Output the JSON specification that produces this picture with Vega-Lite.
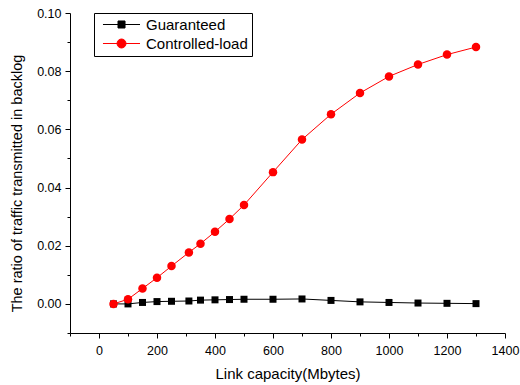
{
  "$schema": "https://vega.github.io/schema/vega-lite/v6.json",
  "width": 435,
  "height": 320,
  "autosize": "none",
  "padding": {"left": 70, "top": 13, "right": 15, "bottom": 52},
  "background": "white",
  "config": {
    "view": {"stroke": null},
    "font": "Liberation Sans",
    "axis": {
      "domainColor": "black",
      "tickColor": "black",
      "labelColor": "black",
      "titleColor": "black",
      "labelFont": "Liberation Sans",
      "titleFont": "Liberation Sans",
      "titleFontWeight": "normal",
      "labelFontSize": 12.5,
      "titleFontSize": 15,
      "grid": false,
      "labelOverlap": false,
      "labelFlush": false
    }
  },
  "data": {
    "values": [
      {"x": 50, "y": 0.0000, "s": "Guaranteed"},
      {"x": 100, "y": 0.0000, "s": "Guaranteed"},
      {"x": 150, "y": 0.0005, "s": "Guaranteed"},
      {"x": 200, "y": 0.0008, "s": "Guaranteed"},
      {"x": 250, "y": 0.0009, "s": "Guaranteed"},
      {"x": 310, "y": 0.0010, "s": "Guaranteed"},
      {"x": 350, "y": 0.0013, "s": "Guaranteed"},
      {"x": 400, "y": 0.0014, "s": "Guaranteed"},
      {"x": 450, "y": 0.0015, "s": "Guaranteed"},
      {"x": 500, "y": 0.0016, "s": "Guaranteed"},
      {"x": 600, "y": 0.0016, "s": "Guaranteed"},
      {"x": 700, "y": 0.0017, "s": "Guaranteed"},
      {"x": 800, "y": 0.0012, "s": "Guaranteed"},
      {"x": 900, "y": 0.0007, "s": "Guaranteed"},
      {"x": 1000, "y": 0.0005, "s": "Guaranteed"},
      {"x": 1100, "y": 0.0003, "s": "Guaranteed"},
      {"x": 1200, "y": 0.0002, "s": "Guaranteed"},
      {"x": 1300, "y": 0.0001, "s": "Guaranteed"},
      {"x": 50, "y": 0.0000, "s": "Controlled-load"},
      {"x": 100, "y": 0.0016, "s": "Controlled-load"},
      {"x": 150, "y": 0.0053, "s": "Controlled-load"},
      {"x": 200, "y": 0.0090, "s": "Controlled-load"},
      {"x": 250, "y": 0.0130, "s": "Controlled-load"},
      {"x": 310, "y": 0.0177, "s": "Controlled-load"},
      {"x": 350, "y": 0.0207, "s": "Controlled-load"},
      {"x": 400, "y": 0.0248, "s": "Controlled-load"},
      {"x": 450, "y": 0.0292, "s": "Controlled-load"},
      {"x": 500, "y": 0.0340, "s": "Controlled-load"},
      {"x": 600, "y": 0.0453, "s": "Controlled-load"},
      {"x": 700, "y": 0.0565, "s": "Controlled-load"},
      {"x": 800, "y": 0.0652, "s": "Controlled-load"},
      {"x": 900, "y": 0.0725, "s": "Controlled-load"},
      {"x": 1000, "y": 0.0782, "s": "Controlled-load"},
      {"x": 1100, "y": 0.0823, "s": "Controlled-load"},
      {"x": 1200, "y": 0.0857, "s": "Controlled-load"},
      {"x": 1300, "y": 0.0883, "s": "Controlled-load"}
    ]
  },
  "encoding": {
    "x": {
      "field": "x",
      "type": "quantitative",
      "scale": {"domain": [-100, 1400], "nice": false, "zero": false},
      "axis": {
        "title": "Link capacity(Mbytes)",
        "format": "d",
        "values": [-100, 0, 100, 200, 300, 400, 500, 600, 700, 800, 900, 1000, 1100, 1200, 1300, 1400],
        "labelExpr": "datum.value % 200 === 0 ? datum.label : ''",
        "tickSize": {"condition": {"test": "datum.value % 200 === 0", "value": 5}, "value": 3},
        "labelPadding": 6,
        "titlePadding": 10
      }
    },
    "y": {
      "field": "y",
      "type": "quantitative",
      "scale": {"domain": [-0.01, 0.1], "nice": false, "zero": false},
      "axis": {
        "title": "The ratio of traffic transmitted in backlog",
        "values": [-0.01, 0, 0.01, 0.02, 0.03, 0.04, 0.05, 0.06, 0.07, 0.08, 0.09, 0.1],
        "labelExpr": "round(datum.value * 100) % 2 === 0 ? format(datum.value, '.2f') : ''",
        "tickSize": {"condition": {"test": "round(datum.value * 100) % 2 === 0", "value": 5}, "value": 3},
        "labelPadding": 4,
        "titlePadding": 12,
        "titleFontSize": 14.5,
        "titleY": 170
      }
    },
    "color": {
      "field": "s",
      "type": "nominal",
      "scale": {"domain": ["Guaranteed", "Controlled-load"], "range": ["#000000", "#ff0000"]},
      "legend": {
        "title": null,
        "orient": "none",
        "legendX": 24,
        "legendY": 0,
        "strokeColor": "black",
        "fillColor": "white",
        "padding": 4,
        "rowPadding": 3,
        "labelFont": "Liberation Sans",
        "labelFontSize": 15,
        "labelColor": "black",
        "labelOffset": 33,
        "symbolSize": 81,
        "symbolStrokeWidth": 1,
        "encoding": {
          "symbols": {
            "shape": {"value": {"expr": "datum.value === 'Guaranteed' ? 'M-0.56,0H7.67M2.78,-0.78H4.34V0.78H2.78Z' : 'M-0.56,0H7.67M4.56,0A1,1,0,1,1,2.56,0A1,1,0,1,1,4.56,0Z'"}},
            "size": {"value": 81},
            "strokeWidth": {"value": 1},
            "opacity": {"value": 1}
          }
        }
      }
    }
  },
  "layer": [
    {
      "mark": {"type": "line", "strokeWidth": 1},
      "encoding": {"detail": {"field": "s"}}
    },
    {
      "transform": [{"filter": "datum.s === 'Guaranteed'"}],
      "mark": {"type": "point", "filled": true, "opacity": 1, "shape": "square", "size": 49}
    },
    {
      "transform": [{"filter": "datum.s === 'Controlled-load'"}],
      "mark": {"type": "point", "filled": true, "opacity": 1, "shape": "circle", "size": 72}
    }
  ]
}
